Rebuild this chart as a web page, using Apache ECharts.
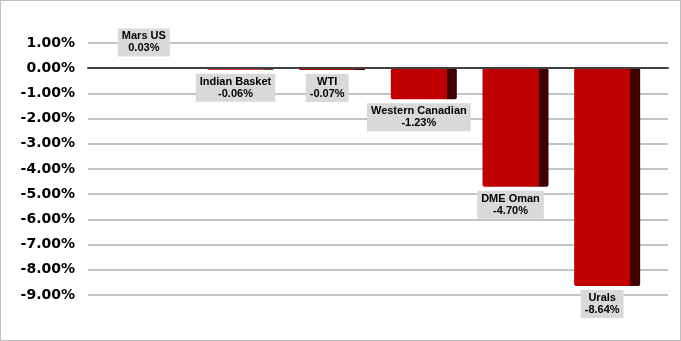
<!DOCTYPE html>
<html><head><meta charset="utf-8">
<script src="https://cdn.jsdelivr.net/npm/echarts@6/dist/echarts.min.js"></script>
<style>html,body{margin:0;padding:0;background:#fff}#c{width:681px;height:341px;box-sizing:border-box;border:1px solid #bfbfbf}</style>
</head><body><div id="c"></div>
<script>
const categories = ['Mars US', 'Indian Basket', 'WTI', 'Western Canadian', 'DME Oman', 'Urals'];
const values = [0.03, -0.06, -0.07, -1.23, -4.70, -8.64];
const yMin = -9, yMax = 1, yStep = 1;

const chart = echarts.init(document.getElementById('c'));
const face = 56 / 66;
const barColor = {
  type: 'linear', x: 0, y: 0, x2: 1, y2: 0,
  colorStops: [
    {offset: 0, color: '#c00000'}, {offset: face, color: '#c00000'},
    {offset: face, color: '#3f0000'}, {offset: 1, color: '#3f0000'}
  ]
};
chart.setOption({
  animation: false,
  grid: [
    {left: 87, right: 12, top: 42, bottom: 45},
    {left: 102, right: 27, top: 42, bottom: 45}
  ],
  xAxis: [
    {gridIndex: 0, type: 'category', data: [''], axisLine: {onZero: true, lineStyle: {color: '#404040', width: 2}},
     axisTick: {show: false}, axisLabel: {show: false}, z: 5},
    {gridIndex: 1, type: 'category', data: categories, show: false}
  ],
  yAxis: [
    {gridIndex: 0, type: 'value', min: yMin, max: yMax, interval: yStep,
     axisLine: {show: false}, axisTick: {show: false},
     splitLine: {lineStyle: {color: '#c4c4c4', width: 2}},
     axisLabel: {margin: 13, color: '#000', fontFamily: 'DejaVu Sans', fontWeight: 'bold', fontSize: 14,
       formatter: v => v.toFixed(2) + '%'}},
    {gridIndex: 1, type: 'value', min: yMin, max: yMax, interval: yStep, show: false}
  ],
  series: [{
    type: 'bar', xAxisIndex: 1, yAxisIndex: 1, barWidth: 66,
    itemStyle: {color: barColor, borderRadius: 2},
    data: values.map(v => ({
      value: v,
      label: {position: v >= 0 ? 'top' : 'bottom', distance: v >= 0 ? 11 : 4}
    })),
    label: {
      show: true, offset: [-5, 0],
      fontFamily: 'Liberation Sans', fontWeight: 'bold', fontSize: 11, lineHeight: 12, color: '#000',
      backgroundColor: '#d9d9d9', padding: [2, 4, 2, 4], align: 'center',
      formatter: p => p.name + '\n' + p.value.toFixed(2) + '%'
    }
  }]
});
</script></body></html>
